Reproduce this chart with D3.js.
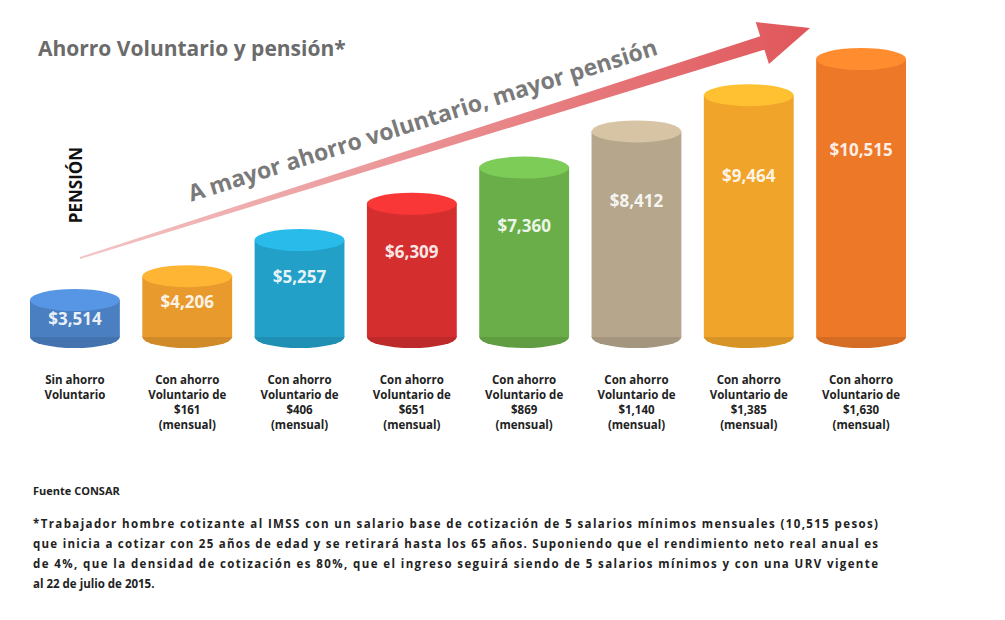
<!DOCTYPE html>
<html><head><meta charset="utf-8">
<script src="https://cdn.jsdelivr.net/npm/d3@7"></script>
<style>body{margin:0;background:#fff}</style></head>
<body><svg id="c" width="1005" height="620"></svg>
<script>
const categories=[["Sin ahorro","Voluntario"],["Con ahorro","Voluntario de","$161","(mensual)"],["Con ahorro","Voluntario de","$406","(mensual)"],["Con ahorro","Voluntario de","$651","(mensual)"],["Con ahorro","Voluntario de","$869","(mensual)"],["Con ahorro","Voluntario de","$1,140","(mensual)"],["Con ahorro","Voluntario de","$1,385","(mensual)"],["Con ahorro","Voluntario de","$1,630","(mensual)"]];
const values=[3514,4206,5257,6309,7360,8412,9464,10515];
const colors=["#4a80c2","#e89a2c","#23a0c8","#d42f2e","#6aae4a","#b6a78c","#f0a42a","#ec7828"];
const notes=["*Trabajador hombre cotizante al IMSS con un salario base de cotización de 5 salarios mínimos mensuales (10,515 pesos)","que inicia a cotizar con 25 años de edad y se retirará hasta los 65 años. Suponiendo que el rendimiento neto real anual es","de 4%, que la densidad de cotización es 80%, que el ingreso seguirá siendo de 5 salarios mínimos  y con una URV vigente","al 22 de julio de 2015."];
const svg=d3.select("#c");
const F="'Open Sans',sans-serif";
const x=d3.scaleBand().domain(d3.range(8)).range([30,906]).paddingInner(0.2);
const y=d3.scaleLinear().domain([3514,10515]).range([300,59]);
const base=337, ry=11;
const defs=svg.append("defs");
const g=defs.append("linearGradient").attr("id","ag").attr("x1","0").attr("x2","1");
g.append("stop").attr("offset","0").attr("stop-color","#f3c6c6");
g.append("stop").attr("offset","1").attr("stop-color","#e0565a");
const t0=[80,258],t1=[810,28];
const L=Math.hypot(t1[0]-t0[0],t1[1]-t0[1]),ux=(t1[0]-t0[0])/L,uy=(t1[1]-t0[1])/L,nx=-uy,ny=ux;
const hb=[t0[0]+ux*(L-50),t0[1]+uy*(L-50)];
const pts=[[t0[0]+nx*1,t0[1]+ny*1],[hb[0]+nx*7,hb[1]+ny*7],[hb[0]+nx*22,hb[1]+ny*22],t1,[hb[0]-nx*22,hb[1]-ny*22],[hb[0]-nx*7,hb[1]-ny*7],[t0[0]-nx*1,t0[1]-ny*1]];
svg.append("polygon").attr("points",pts.map(p=>p.join(",")).join(" ")).attr("fill","url(#ag)");
svg.append("text").attr("transform","translate(425,128) rotate(-17.5)").attr("text-anchor","middle")
 .attr("font-family",F).attr("font-weight","bold").attr("font-size",23).attr("fill","#7a7a7a").text("A mayor ahorro voluntario, mayor pensión");
svg.append("text").attr("x",38).attr("y",56).attr("font-family",F).attr("font-weight","bold").attr("font-size",21).attr("fill","#6b6b6b").text("Ahorro Voluntario y pensión*");
svg.append("text").attr("transform","translate(82,185) rotate(-90)").attr("text-anchor","middle").attr("font-family",F).attr("font-weight","bold").attr("font-size",17).attr("fill","#111").text("PENSIÓN");
const bars=svg.selectAll("g.b").data(values).join("g");
bars.each(function(v,i){
 const s=d3.select(this),cx=x(i)+x.bandwidth()/2,rx=x.bandwidth()/2,top=y(v),c=colors[i];
 s.append("ellipse").attr("cx",cx).attr("cy",base).attr("rx",rx).attr("ry",ry).attr("fill",d3.color(c).darker(0.3));
 s.append("rect").attr("x",cx-rx).attr("y",top).attr("width",2*rx).attr("height",base-top).attr("fill",c);
 s.append("ellipse").attr("cx",cx).attr("cy",top).attr("rx",rx).attr("ry",ry).attr("fill",d3.color(c).brighter(0.45));
 s.append("text").attr("x",cx).attr("y",top+(base-top)*0.3+14).attr("text-anchor","middle").attr("font-family",F).attr("font-weight","bold").attr("font-size",17).attr("fill","#fff").attr("fill-opacity",0.9).text("$"+d3.format(",")(v));
 categories[i].forEach((l,k)=>s.append("text").attr("x",cx).attr("y",384+k*15).attr("text-anchor","middle").attr("font-family",F).attr("font-weight","bold").attr("font-size",11.5).attr("fill","#222").text(l));
});
svg.append("text").attr("x",33).attr("y",495).attr("font-family",F).attr("font-weight","bold").attr("font-size",11).attr("fill","#222").text("Fuente CONSAR");
notes.forEach((l,k)=>svg.append("text").attr("x",33).attr("y",528+k*20).attr("font-family",F).attr("font-weight","bold").attr("font-size",11.5).attr("fill","#222").attr("textLength",k<3?845:null).text(l));
</script></body></html>
